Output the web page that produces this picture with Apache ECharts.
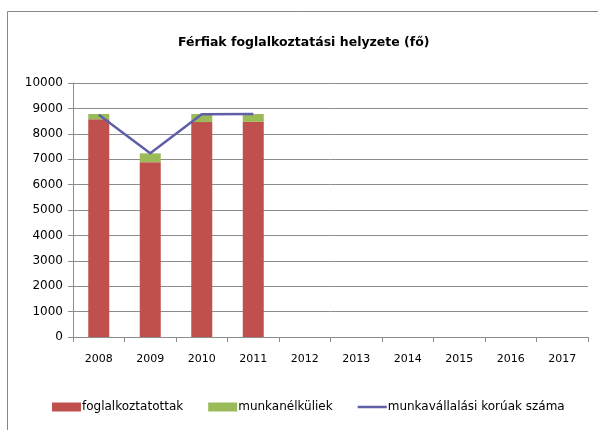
<!DOCTYPE html>
<html>
<head>
<meta charset="utf-8">
<script src="https://cdn.jsdelivr.net/npm/echarts@6/dist/echarts.min.js"></script>
<style>
  html, body { margin: 0; padding: 0; background: #fff; }
  #chart { width: 598px; height: 430px; }
</style>
</head>
<body>
<div id="chart"></div>
<script>
// évek
var years = ['2008', '2009', '2010', '2011', '2012', '2013', '2014', '2015', '2016', '2017'];
// foglalkoztatottak (fő)
var employed = [8570, 6880, 8460, 8470, null, null, null, null, null, null];
// munkanélküliek (fő)
var unemployed = [210, 350, 320, 310, null, null, null, null, null, null];
// munkavállalási korúak száma
var workingAge = [8750, 7230, 8770, 8780, null, null, null, null, null, null];

var labelFont = 'DejaVu Sans';
var gridColor = '#8c8c8c';
var lineColor = '#5f5fa8';

var chart = echarts.init(document.getElementById('chart'));

var option = {
    backgroundColor: '#fff',
    animation: false,
    title: {
        text: 'Férfiak foglalkoztatási helyzete (fő)',
        left: 173,
        top: 31,
        textStyle: {
            fontFamily: labelFont,
            fontSize: 12.5,
            fontWeight: 'bold',
            color: '#000'
        }
    },
    // a diagram kerete (csak bal és felső oldal látszik)
    graphic: [{
        type: 'polyline',
        shape: { points: [[7.5, 430], [7.5, 11.5], [598, 11.5]] },
        style: { fill: 'none', stroke: '#888', lineWidth: 1 },
        silent: true
    }],
    legend: {
        left: 52,
        top: 401,
        padding: 0,
        itemWidth: 29,
        itemHeight: 9,
        itemGap: 25,
        textStyle: { fontFamily: labelFont, fontSize: 12, color: '#000', padding: [0, 0, 0, -4] },
        data: [
            { name: 'foglalkoztatottak', icon: 'rect' },
            { name: 'munkanélküliek', icon: 'rect' },
            { name: 'munkavállalási korúak száma', icon: 'path://M0,0 L29,0 L29,2.5 L0,2.5 Z' }
        ]
    },
    grid: {
        left: 73,
        right: 10,
        top: 83,
        bottom: 93
    },
    xAxis: {
        type: 'category',
        data: years,
        axisLine: { lineStyle: { color: gridColor } },
        axisTick: { show: true, length: 5, lineStyle: { color: gridColor } },
        axisLabel: { fontFamily: labelFont, fontSize: 11, color: '#000', margin: 17 }
    },
    yAxis: {
        type: 'value',
        min: 0,
        max: 10000,
        interval: 1000,
        axisLine: { show: true, lineStyle: { color: gridColor } },
        axisTick: { show: true, length: 5, lineStyle: { color: gridColor } },
        axisLabel: {
            fontFamily: labelFont, fontSize: 12, color: '#000', margin: 10,
            formatter: function (v) { return String(v); }
        },
        splitLine: { lineStyle: { color: gridColor } }
    },
    series: [
        {
            name: 'foglalkoztatottak',
            type: 'bar',
            stack: 'total',
            barWidth: 21,
            itemStyle: { color: '#c0504d' },
            data: employed
        },
        {
            name: 'munkanélküliek',
            type: 'bar',
            stack: 'total',
            barWidth: 21,
            itemStyle: { color: '#9bbb59' },
            data: unemployed
        },
        {
            name: 'munkavállalási korúak száma',
            type: 'line',
            symbol: 'none',
            lineStyle: { color: lineColor, width: 2.5 },
            itemStyle: { color: lineColor },
            data: workingAge
        }
    ]
};

chart.setOption(option);
</script>
</body>
</html>
